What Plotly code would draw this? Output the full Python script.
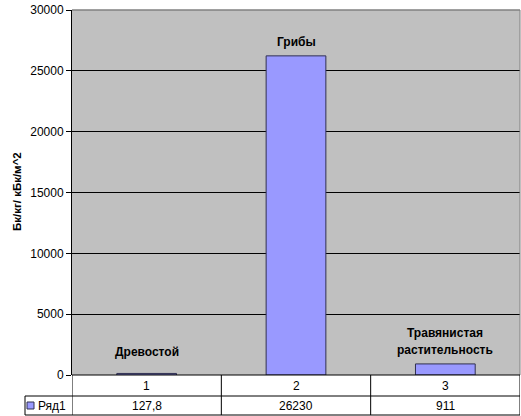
import plotly.graph_objects as go

categories = ["1", "2", "3"]
values = [127.8, 26230, 911]
value_labels = ["127,8", "26230", "911"]
bar_labels = ["Древостой", "Грибы", "Травянистая\nрастительность"]
series_name = "Ряд1"
y_ticks = [0, 5000, 10000, 15000, 20000, 25000, 30000]
y_title = "Бк/кг/ кБк/м^2"

W, H = 521, 416
ML, MR, MT, MB = 72, 1, 10, 41
PW = W - ML - MR
PH = H - MT - MB

def px_x(px):
    return (px - ML) / PW

def px_y(py):
    return (H - MB - py) / PH

FONT = "Liberation Sans, Arial, sans-serif"
xs = list(range(1, len(categories) + 1))

fig = go.Figure()
fig.add_trace(go.Bar(
    x=xs, y=values, width=0.4,
    marker=dict(color="#9999FF", line=dict(color="#303050", width=1)),
    name=series_name, showlegend=False, hoverinfo="y",
))

annotations = []
# labels above bars (small bars get a slightly larger gap, as in the reference)
label_gap = [12, 5, 5]
for x, v, lab, gap in zip(xs, values, bar_labels, label_gap):
    lines = lab.split("\n")
    n = len(lines)
    for k, ln in enumerate(lines):
        annotations.append(dict(
            x=x, y=v, xref="x", yref="y", text=ln, showarrow=False,
            yanchor="bottom", xanchor="center", yshift=gap + (n - 1 - k) * 17,
            font=dict(family=FONT, size=12, color="black", weight="bold"),
        ))

row1_top = 0
row1_bot = px_y(396)
row2_bot = px_y(415)
row1_mid = (row1_top + row1_bot) / 2
row2_mid = (row1_bot + row2_bot) / 2
left_cell = px_x(25)

for x, c, vl in zip(xs, categories, value_labels):
    annotations.append(dict(x=x, y=row1_mid, xref="x", yref="paper", text=c,
                            showarrow=False, yanchor="middle",
                            font=dict(family=FONT, size=12, color="black")))
    annotations.append(dict(x=x, y=row2_mid, xref="x", yref="paper", text=vl,
                            showarrow=False, yanchor="middle",
                            font=dict(family=FONT, size=12, color="black")))

annotations.append(dict(x=px_x(36), y=row2_mid, xref="paper", yref="paper",
                        text=series_name, showarrow=False, xanchor="left",
                        yanchor="middle",
                        font=dict(family=FONT, size=12, color="black")))

annotations.append(dict(x=px_x(17), y=px_y(192), xref="paper", yref="paper",
                        text=y_title, showarrow=False, textangle=-90,
                        xanchor="center", yanchor="middle",
                        font=dict(family=FONT, size=11.5, color="black", weight="bold")))

shapes = []
line_k = dict(color="black", width=1)
# plot area border (top/right gray)
shapes.append(dict(type="line", xref="paper", yref="paper", x0=0, x1=1, y0=1, y1=1,
                   line=dict(color="#808080", width=1.5)))
shapes.append(dict(type="line", xref="paper", yref="paper", x0=1, x1=1, y0=0, y1=1,
                   line=dict(color="#808080", width=1)))
# table horizontal lines
shapes.append(dict(type="line", xref="paper", yref="paper", x0=0, x1=1, y0=0, y1=0, line=line_k))
shapes.append(dict(type="line", xref="paper", yref="paper", x0=left_cell, x1=1,
                   y0=row1_bot, y1=row1_bot, line=line_k))
shapes.append(dict(type="line", xref="paper", yref="paper", x0=left_cell, x1=1,
                   y0=row2_bot, y1=row2_bot, line=line_k))
# table vertical lines at category boundaries
for b in [x + 0.5 for x in [0] + xs]:
    shapes.append(dict(type="line", xref="x", yref="paper", x0=b, x1=b,
                       y0=0, y1=row2_bot, line=line_k))
shapes.append(dict(type="line", xref="paper", yref="paper", x0=left_cell, x1=left_cell,
                   y0=row1_bot, y1=row2_bot, line=line_k))
# legend key square
shapes.append(dict(type="rect", xref="paper", yref="paper",
                   x0=px_x(27), x1=px_x(34), y0=row2_mid - 3.5 / PH, y1=row2_mid + 3.5 / PH,
                   fillcolor="#9999FF", line=dict(color="#303050", width=1)))

fig.update_layout(
    width=W, height=H,
    margin=dict(l=ML, r=MR, t=MT, b=MB, pad=0),
    paper_bgcolor="white", plot_bgcolor="#C0C0C0",
    font=dict(family=FONT, size=12, color="black"),
    annotations=annotations, shapes=shapes,
    xaxis=dict(range=[0.5, len(xs) + 0.5], showticklabels=False, showgrid=False,
               zeroline=False, showline=False, ticks="", fixedrange=True),
    yaxis=dict(range=[0, 30000], tickvals=y_ticks, ticktext=[str(t) for t in y_ticks],
               showgrid=True, gridcolor="black", gridwidth=1, zeroline=False,
               showline=True, linecolor="black", linewidth=1,
               ticks="outside", ticklen=5, tickcolor="black",
               tickfont=dict(family=FONT, size=12, color="black"), fixedrange=True),
    bargap=0.6,
)

fig.write_html("out.html", config={"displayModeBar": False},
               post_script="document.body.style.margin='0';document.body.style.overflow='hidden';")
